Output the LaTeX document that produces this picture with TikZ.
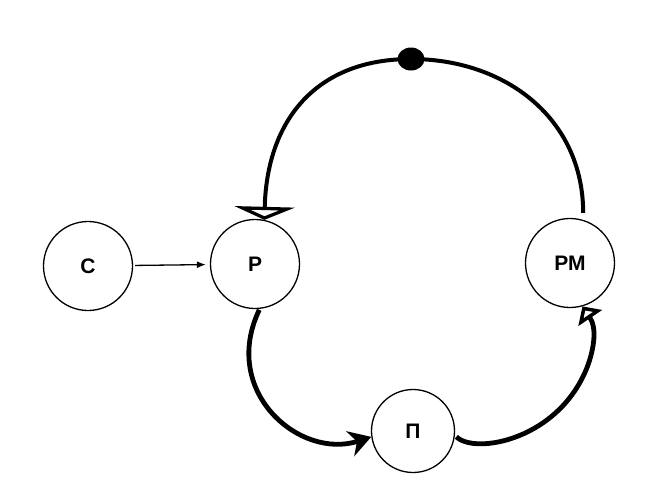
\documentclass[tikz,border=0pt]{standalone}
\usepackage{fontspec}
\setmainfont{Liberation Sans}
\usetikzlibrary{arrows.meta,shapes.geometric}
\begin{document}
\begin{tikzpicture}[x=1pt,y=-1pt,
  state/.style={draw, circle, line width=1.3pt, inner sep=0pt, minimum size=89pt,
    font=\fontsize{21}{23}\selectfont\bfseries},
  thinarrow/.style={line width=1.3pt, -{Latex[length=9pt,width=7pt]}},
  toparc/.style={line width=4pt},
  lowarc/.style={line width=4.8pt},
  blob/.style={ellipse, fill=black, draw=none, minimum width=27pt, minimum height=23pt, inner sep=0pt}]
\useasboundingbox (0,0) rectangle (652,496);
\node[state] (C) at (88,266) {С};
\node[state] (R) at (255,264) {Р};
\node[state] (RM) at (570,263) {РМ};
\node[state, minimum size=83pt] (P) at (413,431) {П};
\coordinate (top) at (411,59);
\draw[thinarrow, shorten <=2pt, shorten >=4pt] (C) -- (R);
\draw[toparc, -{Triangle[open,length=13pt,width=60pt,line join=miter]}, shorten <=7pt]
  (RM.73) .. controls (583,118) and (505,59) .. (top)
  .. controls (318,59) and (267,118) .. (R.78);
\node[blob] (D) at (top) {};
\draw[lowarc, -{Stealth[length=22pt,width=26pt,inset=7pt]}, shorten <=1pt]
  (R.-84) .. controls (220,392) and (300,460) .. (P.188);
\draw[lowarc, -{Triangle[open,length=14pt,width=28pt,line join=miter]}, shorten <=2pt]
  (P.-6) .. controls (475,455) and (560,440) .. (588,365)
  .. controls (594,348) and (597,328) .. (RM.-74);
\end{tikzpicture}
\end{document}
